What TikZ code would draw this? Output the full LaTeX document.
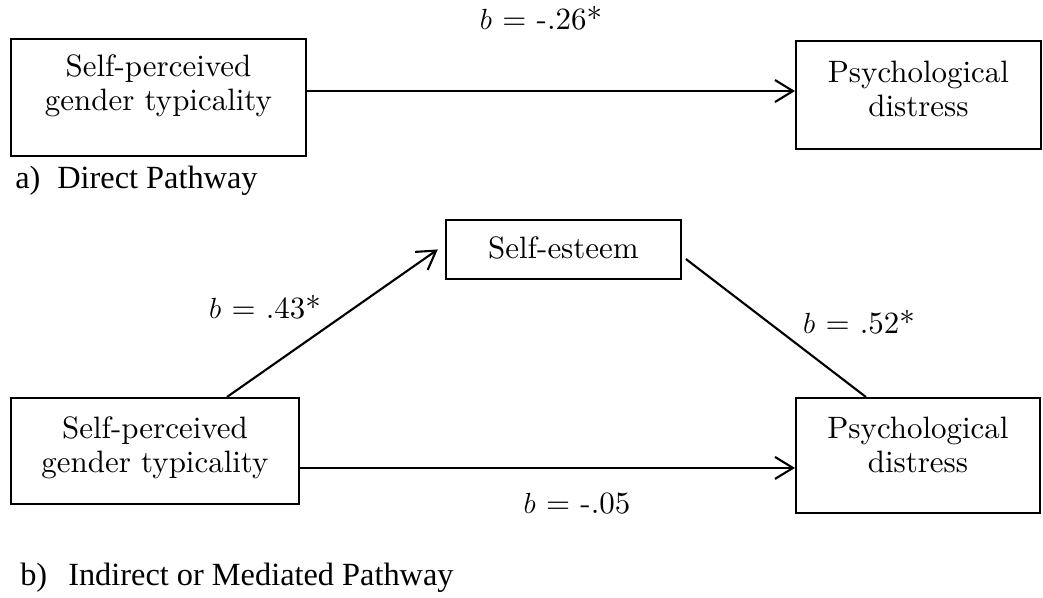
\documentclass[tikz,border=0pt]{standalone}
\usepackage{fontspec}
\newfontfamily\capfont{Liberation Serif}
\newfontfamily\boxfont{lmroman10-regular.otf}
\usetikzlibrary{arrows.meta}
\newcommand{\twolines}[2]{\begin{tabular}[t]{@{}c@{}}#1\\#2\end{tabular}}
\tikzset{
  varbox/.style={draw,line width=1.3pt,inner sep=0pt,anchor=north west,font=\boxfont\fontsize{22}{24}\selectfont},
  coef/.style={anchor=base,inner sep=0pt,font=\boxfont\fontsize{22}{24}\selectfont},
  caption/.style={anchor=base west,inner sep=0pt,font=\capfont\fontsize{23}{26}\selectfont},
  arr/.style={line width=1.5pt,-{Straight Barb[length=0.45cm,width=0.55cm,line width=1.5pt]}},
  plain/.style={line width=1.5pt}
}

\begin{document}
\begin{tikzpicture}[x=0.025cm,y=-0.025cm]
  \useasboundingbox (0,0) rectangle (1043,597);
  \node[varbox,minimum width=7.375cm,text height=0.95cm,text depth=1.975cm] (gtA) at (10,38) {\twolines{Self-perceived}{gender typicality}};
  \node[varbox,minimum width=6.125cm,text height=1.05cm,text depth=1.65cm] (pdA) at (795,40) {\twolines{Psychological}{distress}};
  \draw[arr] ([yshift=0.16cm]gtA.east) -- ([yshift=0.16cm]gtA.east -| pdA.west);
  \node[coef] (cdir) at (541,30) {$b$ = -.26*};
  \node[caption] (capa) at (15,188) {\makebox[1.05cm][l]{a)}Direct Pathway};

  \node[varbox,minimum width=5.875cm,text height=0.975cm,text depth=0.5cm] (se) at (445,219) {Self-esteem};
  \node[varbox,minimum width=7.2cm,text height=1.025cm,text depth=1.625cm] (gtB) at (10,397) {\twolines{Self-perceived}{gender typicality}};
  \node[varbox,minimum width=6.1cm,text height=1.025cm,text depth=1.85cm] (pdB) at (795,397) {\twolines{Psychological}{distress}};
  \draw[arr] ([xshift=1.8cm]gtB.north) -- ([xshift=-0.18cm]se.west);
  \draw[plain] ([shift={(0.1cm,-0.24cm)}]se.east) -- ([xshift=-1.3cm]pdB.north);
  \draw[arr] ([yshift=-0.425cm]gtB.east) -- ([yshift=-0.425cm]gtB.east -| pdB.west);
  \node[coef] (ca) at (265,318) {$b$ = .43*};
  \node[coef] (cb) at (859,333) {$b$ = .52*};
  \node[coef] (cc) at (577,513) {$b$ = -.05};
  \node[caption] (capb) at (20,585) {\makebox[1.2cm][l]{b)}Indirect or Mediated Pathway};
\end{tikzpicture}
\end{document}
